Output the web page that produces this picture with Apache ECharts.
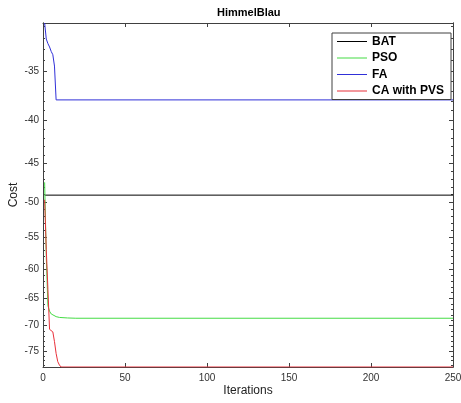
<!DOCTYPE html>
<html>
<head>
<meta charset="utf-8">
<script src="https://cdn.jsdelivr.net/npm/echarts@6/dist/echarts.min.js"></script>
<style>
  html, body { margin: 0; padding: 0; background: #fff; }
  #chart { width: 461px; height: 403px; }
</style>
</head>
<body>
<div id="chart"></div>
<script>
// HimmelBlau — convergence of the four optimisers
// the cost axis in the figure is logarithmic in |cost|, so the y axes are log axes of -cost

const seriesNames = ['BAT', 'PSO', 'FA', 'CA with PVS'];

const batIter = [1, 250];
const batCost = [-49.08, -49.08];

const psoIter = [1, 2, 3, 4, 5, 6, 8, 10, 15, 20, 250];
const psoCost = [-47.4, -58.0, -66.3, -67.3, -67.8, -68.1, -68.3, -68.45, -68.55, -68.6, -68.6];

const faIter = [1, 2, 3, 4, 5, 6, 7, 8, 250];
const faCost = [-30.73, -32.1, -32.5, -32.8, -33.2, -33.5, -34.55, -37.88, -37.88];

const cavIter = [1, 2, 3, 4, 5, 6, 7, 8, 9, 10, 11, 250];
const cavCost = [-49.7, -56.9, -63.4, -70.7, -70.8, -71.2, -73.1, -75.5, -77.2, -77.9, -78.33, -78.33];

const yTicks = [-35, -40, -45, -50, -55, -60, -65, -70, -75];
const yMinorTicks = [-31, -32, -33, -34, -36, -37, -38, -39, -41, -42, -43, -44, -46, -47, -48, -49,
  -51, -52, -53, -54, -56, -57, -58, -59, -61, -62, -63, -64, -66, -67, -68, -69,
  -71, -72, -73, -74, -76, -77, -78];
const yTop = -30.73;
const yBottom = -78.33;

const COLORS = ['#000000', '#45dc45', '#3030d8', '#e8303a'];
const AXIS = '#404040';
const FONT = '"Liberation Sans", Arial, Helvetica, sans-serif';
// plain line for legend keys (tiny corner dots keep the box 30x13)
const LINE_ICON = 'path://M0,0h0.05v0.05h-0.05z M0,6h30v1h-30z M0,12.95h0.05v0.05h-0.05z';

const pairs = (xs, ys) => xs.map((x, i) => [x, -ys[i]]);
const mag = v => -v;

function yAx(pos, ticks, len, withLabels) {
  return {
    type: 'log', inverse: true, position: pos,
    min: -yTop, max: -yBottom,
    axisLine: { show: true, lineStyle: { color: AXIS, width: 1 } },
    axisTick: { show: true, inside: true, length: len, customValues: ticks.map(mag), lineStyle: { color: AXIS } },
    axisLabel: {
      show: withLabels, customValues: ticks.map(mag), margin: 4,
      formatter: v => '-' + Math.round(v), color: '#333', fontFamily: FONT, fontSize: 10
    },
    splitLine: { show: false },
    minorTick: { show: false }
  };
}

function xAx(pos, withLabels) {
  return {
    type: 'value', position: pos, min: 0, max: 250, interval: 50,
    axisLine: { show: true, onZero: false, lineStyle: { color: AXIS, width: 1 } },
    axisTick: { show: true, inside: true, length: 4, lineStyle: { color: AXIS } },
    axisLabel: { show: withLabels, margin: 6, color: '#333', fontFamily: FONT, fontSize: 10 },
    splitLine: { show: false }
  };
}

const xBottom = Object.assign(xAx('bottom', true), {
  name: 'Iterations', nameLocation: 'middle', nameGap: 18, nameMoveOverlap: false,
  nameTextStyle: { color: '#222', fontFamily: FONT, fontSize: 12 }
});
const yLeft = Object.assign(yAx('left', yTicks, 4, true), {
  name: 'Cost', nameLocation: 'middle', nameGap: 23, nameMoveOverlap: false,
  nameTextStyle: { color: '#222', fontFamily: FONT, fontSize: 12 }
});

function line(name, xs, ys, color) {
  return {
    name: name, type: 'line', xAxisIndex: 0, yAxisIndex: 0,
    data: pairs(xs, ys), symbol: 'none', showSymbol: false,
    lineStyle: { color: color, width: 1 }, itemStyle: { color: color }
  };
}

const chart = echarts.init(document.getElementById('chart'), null, { renderer: 'canvas' });
chart.setOption({
  animation: false,
  backgroundColor: '#fff',
  title: {
    text: 'HimmelBlau', left: 217, top: 7, padding: 0,
    textStyle: { color: '#000', fontFamily: FONT, fontSize: 11, fontWeight: 'bold' }
  },
  grid: { left: 43, right: 8, top: 23, bottom: 36, containLabel: false, outerBoundsMode: 'none' },
  legend: {
    data: seriesNames.map(n => ({ name: n, icon: LINE_ICON })),
    orient: 'vertical', left: 332, top: 33,
    backgroundColor: '#fff', borderColor: AXIS, borderWidth: 1,
    padding: [2, 7, 2, 5], itemWidth: 30, itemHeight: 13, itemGap: 3.5,
    itemStyle: { borderWidth: 0 },
    selectedMode: false,
    textStyle: { color: '#000', fontFamily: FONT, fontSize: 12, fontWeight: 'bold' }
  },
  xAxis: [xBottom, xAx('top', false)],
  yAxis: [yLeft, yAx('left', yMinorTicks, 2, false), yAx('right', yTicks, 4, false), yAx('right', yMinorTicks, 2, false)],
  series: [
    line(seriesNames[0], batIter, batCost, COLORS[0]),
    line(seriesNames[1], psoIter, psoCost, COLORS[1]),
    line(seriesNames[2], faIter, faCost, COLORS[2]),
    line(seriesNames[3], cavIter, cavCost, COLORS[3])
  ]
});
window.addEventListener('resize', () => chart.resize());
</script>
</body>
</html>
